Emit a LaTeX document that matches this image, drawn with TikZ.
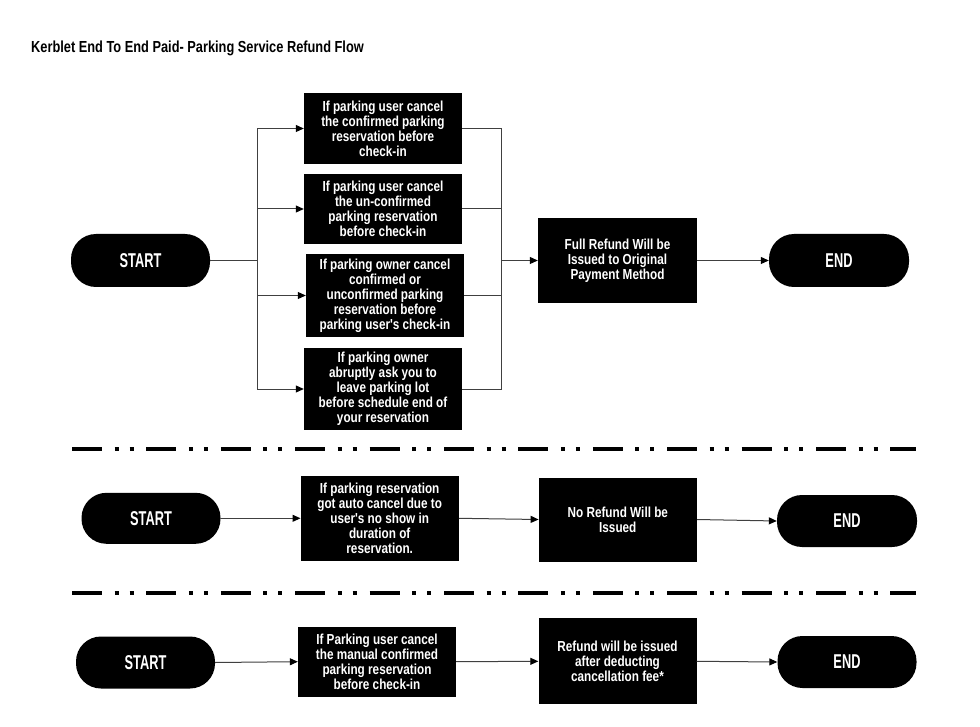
\documentclass[tikz,border=0pt]{standalone}
\usepackage{fontspec}
\usetikzlibrary{arrows.meta}
\newfontfamily\boxfnt[FakeStretch=0.81]{Liberation Sans Bold}
\newfontfamily\termfnt[FakeStretch=0.64]{Liberation Sans Bold}
\newfontfamily\titlefnt[FakeStretch=0.8]{Liberation Sans Bold}
\begin{document}
\begin{tikzpicture}[x=1pt,y=-1pt,
  pbox/.style={fill=black, text=white, align=center, inner sep=0pt,
    font=\boxfnt\fontsize{14.5}{15}\selectfont, minimum width=158pt},
  term/.style={fill=black, text=white, rounded corners=25pt, inner sep=0pt,
    font=\termfnt\fontsize{20}{22}\selectfont, minimum width=139pt, minimum height=52pt},
  conn/.style={draw=black!75, line width=1pt},
  arr/.style={conn, -{Triangle[length=8pt,width=7pt,color=black]}},
  sep/.style={draw=black, line width=3.5pt,
    dash pattern=on 30pt off 12.5pt on 4pt off 11pt on 4pt off 12.9pt}
]
\useasboundingbox (0,0) rectangle (980,727);
\fill[white] (0,0) rectangle (980,727);

\node[anchor=base west, font=\titlefnt\fontsize{16}{17}\selectfont, inner sep=0pt] (title) at (31,52.7)
  {Kerblet End To End Paid- Parking Service Refund Flow};

% ---------- top section ----------
\node[term, minimum height=53pt] (start1) at (140.5,260.5) {START};
\node[pbox, minimum height=71pt] (b1) at (383,128.5)
  {If parking user cancel\\the confirmed parking\\reservation before\\check-in};
\node[pbox, minimum height=70pt] (b2) at (383,209)
  {If parking user cancel\\the un-confirmed\\parking reservation\\before check-in};
\node[pbox, minimum height=83pt] (b3) at (385,295.5)
  {If parking owner cancel\\confirmed or\\unconfirmed parking\\reservation before\\parking user's check-in};
\node[pbox, minimum height=82pt] (b4) at (383,389)
  {If parking owner\\abruptly ask you to\\leave parking lot\\before schedule end of\\your reservation};
\node[pbox, minimum width=159pt, minimum height=85pt] (full) at (617.5,260.5)
  {Full Refund Will be\\Issued to Original\\Payment Method};
\node[term, minimum width=140pt, minimum height=53pt] (end1) at (839,260.5) {END};

\coordinate (j1) at (257,260.5);
\coordinate (j2) at (501.5,260.5);

\draw[conn] (start1.east) -- (j1);
\draw[conn] (b1.west -| j1) -- (b4.west -| j1);
\draw[arr] (b1.west -| j1) -- (b1.west);
\draw[arr] (b2.west -| j1) -- (b2.west);
\draw[arr] (b3.west -| j1) -- (b3.west);
\draw[arr] (b4.west -| j1) -- (b4.west);

\draw[conn] (b1.east) -- (b1.east -| j2);
\draw[conn] (b2.east) -- (b2.east -| j2);
\draw[conn] (b3.east) -- (b3.east -| j2);
\draw[conn] (b4.east) -- (b4.east -| j2);
\draw[conn] (b1.east -| j2) -- (b4.east -| j2);
\draw[arr] (j2) -- (full.west);
\draw[arr] (full.east) -- (end1.west);

% ---------- separators ----------
\draw[sep] (72,449) -- (916,449);
\draw[sep] (72,593) -- (916,593);

% ---------- middle section ----------
\node[term, minimum height=51pt] (start2) at (151,518.3) {START};
\node[pbox, minimum height=85pt] (m1) at (379.7,518.3)
  {If parking reservation\\got auto cancel due to\\user's no show in\\duration of\\reservation.};
\node[pbox, minimum height=84pt] (m2) at (617.8,519.5)
  {No Refund Will be\\Issued};
\node[term, minimum width=140pt] (end2) at (847,521) {END};
\draw[arr] (start2.east) -- (m1.west);
\draw[arr] (m1.east) -- (m2.west);
\draw[arr] (m2.east) -- (end2.west);

% ---------- bottom section ----------
\node[term] (start3) at (145.5,662.5) {START};
\node[pbox, minimum height=70pt] (n1) at (377,661.7)
  {If Parking user cancel\\the manual confirmed\\parking reservation\\before check-in};
\node[pbox, minimum height=86pt] (n2) at (617.5,661.3)
  {Refund will be issued\\after deducting\\cancellation fee*};
\node[term] (end3) at (847,662) {END};
\draw[arr] (start3.east) -- (n1.west);
\draw[arr] (n1.east) -- (n2.west);
\draw[arr] (n2.east) -- (end3.west);
\end{tikzpicture}
\end{document}
